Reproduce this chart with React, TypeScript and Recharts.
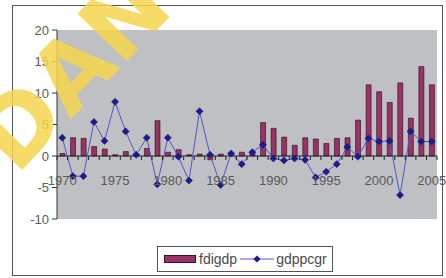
import React from 'react';
import { ComposedChart, Bar, Line, XAxis, YAxis, CartesianGrid, ReferenceLine, Legend } from 'recharts';

// Années 1970-2005
const YEARS = [
  '1970', '1971', '1972', '1973', '1974', '1975', '1976', '1977', '1978', '1979',
  '1980', '1981', '1982', '1983', '1984', '1985', '1986', '1987', '1988', '1989',
  '1990', '1991', '1992', '1993', '1994', '1995', '1996', '1997', '1998', '1999',
  '2000', '2001', '2002', '2003', '2004', '2005',
];

// IDE en % du PIB
const FDIGDP = [
  0.4, 2.9, 2.8, 1.5, 1.1, 0.2, 0.7, 0.3, 1.2, 5.6,
  0.6, 1.0, 0.2, 0.3, -0.6, 0.3, 0.4, 0.6, 0.7, 5.3,
  4.4, 3.0, 1.7, 2.9, 2.7, 2.0, 2.8, 2.9, 5.7, 11.3,
  10.2, 8.5, 11.6, 6.0, 14.2, 11.3,
];

// croissance du PIB par habitant
const GDPPCGR = [
  2.9, -3.2, -3.2, 5.4, 2.4, 8.6, 3.9, 0.2, 2.9, -4.5,
  2.9, -0.1, -3.9, 7.1, 0.2, -4.6, 0.4, -1.3, 0.6, 1.8,
  -0.4, -0.7, -0.4, -0.6, -3.4, -2.5, -1.3, 1.4, -0.1, 2.8,
  2.3, 2.4, -6.2, 3.9, 2.3, 2.3,
];

const Y_TICKS = [-10, -5, 0, 5, 10, 15, 20];

const data = YEARS.map((y, i) => ({ year: y, fdigdp: FDIGDP[i], gdppcgr: GDPPCGR[i] }));

const FONT = '"Liberation Sans", Arial, sans-serif';
const BAR_COLOR = '#993366';
const LINE_COLOR = '#5454c8';
const DOT_COLOR = '#1c1c88';

// zone de tracé
const PLOT_LEFT = 57;
const PLOT_RIGHT = 437;
const PLOT_TOP = 30;
const PLOT_BOTTOM = 219;
const ZERO_Y = PLOT_TOP + (PLOT_BOTTOM - PLOT_TOP) * (20 / 30);
const BAND = (PLOT_RIGHT - PLOT_LEFT) / YEARS.length;

const Diamond = (props: any) => {
  const { cx, cy } = props;
  if (cx == null || cy == null) return null;
  const r = 3.6;
  return <path d={`M${cx},${cy - r}L${cx + r},${cy}L${cx},${cy + r}L${cx - r},${cy}Z`} fill={DOT_COLOR} stroke={DOT_COLOR} strokeWidth={0.5} />;
};

// étiquettes de l'axe des catégories, qui croise à 0
const YearTick = (props: any) => {
  const { x, payload, index } = props;
  const left = x - BAND / 2;
  const show = Number(payload.value) % 5 === 0;
  return (
    <g>
      <line x1={left} x2={left} y1={ZERO_Y} y2={ZERO_Y + 4} stroke="#222" />
      {index === YEARS.length - 1 && <line x1={left + BAND} x2={left + BAND} y1={ZERO_Y} y2={ZERO_Y + 4} stroke="#222" />}
      {show && (
        <text x={x} y={ZERO_Y + 24} textAnchor="middle" dominantBaseline="central" fontSize={13} fill="#5a5a5a" fontFamily={FONT}>
          {payload.value}
        </text>
      )}
    </g>
  );
};

const LegendBox = () => (
  <div style={{
    width: 176, height: 26, border: '1px solid #555', background: '#fff', boxSizing: 'border-box',
    display: 'flex', alignItems: 'center', fontFamily: FONT, fontSize: 14, color: '#4a4a4a',
  }}>
    <span style={{ width: 30, height: 6, background: BAR_COLOR, border: '1px solid #3a1025', marginLeft: 6, marginRight: 3 }} />
    <span>fdigdp</span>
    <svg width={34} height={10} style={{ marginLeft: 3, marginRight: 2 }}>
      <line x1={0} x2={34} y1={5} y2={5} stroke={LINE_COLOR} strokeWidth={1} />
      <path d="M17,1.4L20.6,5L17,8.6L13.4,5Z" fill={DOT_COLOR} />
    </svg>
    <span>gdppcgr</span>
  </div>
);

export default function App() {
  return (
    <div style={{ position: 'absolute', left: 0, top: 0, width: 446, height: 278, background: '#fff', overflow: 'hidden' }}>
      <div style={{ position: 'absolute', left: 12, top: 5, width: 431, height: 271, border: '1.5px solid #555', boxSizing: 'border-box' }} />
      <div style={{ position: 'absolute', left: 0, top: 0 }}>
        <ComposedChart
          width={446}
          height={278}
          data={data}
          margin={{ top: PLOT_TOP, right: 446 - PLOT_RIGHT, left: PLOT_LEFT - 40, bottom: 278 - PLOT_BOTTOM - 30 }}
        >
          <CartesianGrid horizontal={false} vertical={false} fill="#bfc0c4" />
          <XAxis dataKey="year" interval={0} axisLine={false} tickLine={false} height={30} tick={<YearTick />} />
          <YAxis
            domain={[-10, 20]}
            ticks={Y_TICKS}
            width={40}
            axisLine={{ stroke: '#333' }}
            tickLine={{ stroke: '#333' }}
            tickSize={5}
            tickMargin={3}
            tick={{ fontSize: 13, fill: '#5a5a5a', fontFamily: FONT }}
          />
          <ReferenceLine y={0} stroke="#222" strokeWidth={1.2} />
          <Bar dataKey="fdigdp" fill={BAR_COLOR} stroke="#2a0818" strokeWidth={0.6} barSize={5} isAnimationActive={false} />
          <Line dataKey="gdppcgr" type="linear" stroke={LINE_COLOR} strokeWidth={1} dot={<Diamond />} activeDot={false} isAnimationActive={false} />
          <Legend
            layout="vertical"
            verticalAlign="middle"
            align="center"
            content={<LegendBox />}
            wrapperStyle={{ left: 157, top: 246, width: 176, height: 26 }}
          />
        </ComposedChart>
      </div>
      <svg width={446} height={278} style={{ position: 'absolute', left: 0, top: 0, pointerEvents: 'none' }}>
        <text
          x={0}
          y={0}
          transform="translate(16,176) rotate(-46)"
          fontSize={94}
          fontWeight="bold"
          fontFamily='"DejaVu Sans", sans-serif'
          fill="#f4d54e"
          fillOpacity={0.85}
        >
          DAN L
        </text>
      </svg>
    </div>
  );
}
